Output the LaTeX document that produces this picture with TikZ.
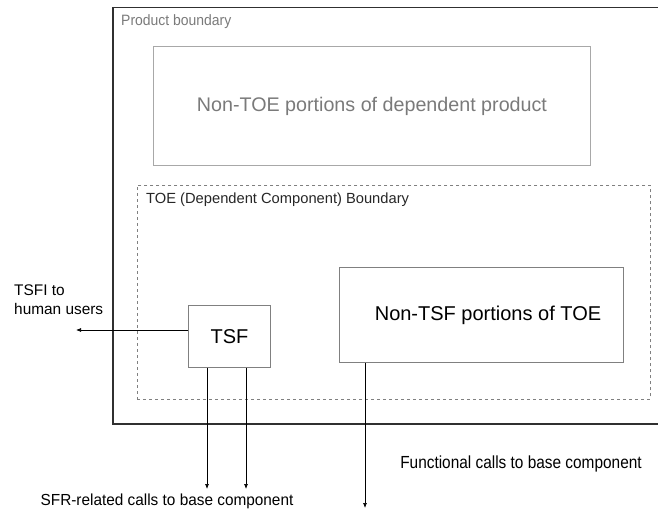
\documentclass[tikz,border=0pt]{standalone}
\usepackage{fontspec}
\setmainfont{Liberation Sans}
\usetikzlibrary{arrows.meta}
\definecolor{darkline}{HTML}{303030}
\definecolor{lightline}{HTML}{A8A8A8}
\definecolor{midline}{HTML}{808080}
\definecolor{greytext}{HTML}{7A7A7A}
\tikzset{
  boxstyle/.style={draw=midline, line width=0.9pt, inner sep=0pt},
  lbl/.style={inner sep=0pt, anchor=west},
  call/.style={draw=black, line width=0.7pt, -{Latex[length=5pt,width=4pt]}},
}
\begin{document}
\begin{tikzpicture}[x=1pt,y=-1pt]
\useasboundingbox (0,0) rectangle (658,513);
% product boundary
\node[draw=darkline, line width=1.5pt, minimum width=560pt, minimum height=416pt, inner sep=0pt, anchor=north west] (prod) at (112,7) {};
\node[lbl, text=greytext, font=\fontsize{15}{17}\selectfont] (prodlbl) at (121,22) {\scalebox{0.93}[1]{Product boundary}};
% non-TOE box
\node[draw=lightline, line width=0.9pt, minimum width=437pt, minimum height=119pt, inner sep=0pt, anchor=north west, text=greytext, font=\fontsize{19.7}{22}\selectfont] (nontoe) at (153,46) {Non-TOE portions of dependent product};
% TOE boundary
\node[draw=midline, dashed, line width=0.8pt, minimum width=513pt, minimum height=214pt, inner sep=0pt, anchor=north west] (toe) at (137,185) {};
\node[lbl, text=black!85, font=\fontsize{14.7}{16}\selectfont] (toelbl) at (146,200) {TOE (Dependent Component) Boundary};
% TSF
\node[boxstyle, minimum width=82pt, minimum height=62pt, anchor=north west, font=\fontsize{20}{22}\selectfont] (tsf) at (188,305) {TSF};
% Non-TSF
\node[boxstyle, minimum width=284pt, minimum height=95pt, anchor=north west] (nontsf) at (339,267) {};
\node[font=\fontsize{20}{22}\selectfont, inner sep=0pt] (nontsflbl) at (488,315) {Non-TSF portions of TOE};
% labels
\node[lbl, font=\fontsize{15.4}{19}\selectfont, align=left, anchor=north west] (tsfi) at (14,285) {TSFI to\\human users};
\node[inner sep=0pt, font=\fontsize{16}{18}\selectfont] (sfr) at (167,501) {\scalebox{0.96}[1]{SFR-related calls to base component}};
\node[inner sep=0pt, font=\fontsize{17.5}{19}\selectfont] (func) at (521,464) {\scalebox{0.88}[1]{Functional calls to base component}};
% arrow endpoints
\coordinate (tsfiend) at (76,330);
\coordinate (sfrA) at (207,489);
\coordinate (sfrB) at (246,489);
\coordinate (funcend) at (365,508);
\draw[call] (tsf.west |- tsfiend) -- (tsfiend);
\draw[call] (tsf.south -| sfrA) -- (sfrA);
\draw[call] (tsf.south -| sfrB) -- (sfrB);
\draw[call] (nontsf.south -| funcend) -- (funcend);
\end{tikzpicture}
\end{document}
